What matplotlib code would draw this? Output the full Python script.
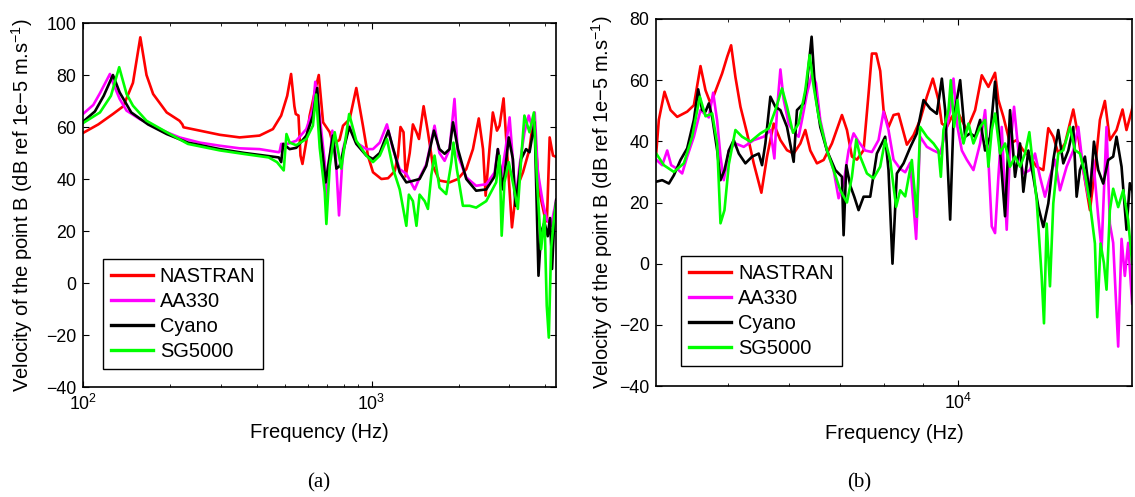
import numpy as np
import matplotlib
matplotlib.use('Agg')
import matplotlib.pyplot as plt
from matplotlib.ticker import NullFormatter, MultipleLocator

plt.rcParams['font.family'] = ['Liberation Sans', 'DejaVu Sans']
plt.rcParams['mathtext.fontset'] = 'custom'
plt.rcParams['mathtext.rm'] = 'Liberation Sans'

# ---------------- panel (a): 100 Hz - 4.3 kHz ----------------
a_nastran_f = [100, 113, 127, 138, 149, 158, 166, 175, 195, 216, 221, 223, 254, 298, 349, 409, 455,
               486, 510, 526, 540, 546, 558, 567, 576, 595, 610, 640, 656, 679, 716, 734, 774, 796,
               839, 885, 933, 971, 1011, 1081, 1140, 1202, 1234, 1259, 1290, 1312, 1355, 1390, 1430,
               1459, 1514, 1567, 1631, 1718, 1862, 1991, 2128, 2244, 2351, 2432, 2483, 2560, 2630,
               2718, 2775, 2865, 2965, 3063, 3170, 3345, 3524, 3640, 3813, 3970, 4048, 4138, 4250, 4365]
a_nastran_db = [57.7, 61, 65, 68, 77, 94.5, 80, 72.7, 65.6, 62.4, 61, 59.9, 58.6, 57, 56, 56.7, 59.2,
                64.4, 72, 80.4, 68, 65, 64.4, 49, 45.8, 55, 64.4, 75, 80, 61.8, 58, 53.5, 55, 60.5,
                63, 75, 60.5, 49, 42.6, 40, 40.3, 43, 49, 60, 58, 41, 50, 61, 58,
                55.4, 68, 58, 45, 39.4, 38.7, 40, 43.8, 51.5, 63.3, 51.5, 33.6, 51.5, 65.6,
                58.6, 60.5, 71, 45.6, 21.4, 36, 42.6, 51.5, 64, 35, 26, 23.7, 56, 49, 48.5]

a_aa330_f = [100, 108.6, 114.5, 124, 127, 134, 141.6, 157.5, 175, 195, 216, 254, 298, 349, 409, 477,
             480, 486, 510, 548, 594, 626, 638, 661, 688, 697, 731, 751, 771, 796, 836, 885, 959,
             1011, 1067, 1130, 1186, 1251, 1319, 1410, 1466, 1546, 1652, 1718, 1790, 1862, 1937,
             1991, 2128, 2302, 2495, 2667, 2737, 2812, 2911, 3006, 3085, 3150, 3252, 3383, 3501,
             3614, 3673, 3767, 3917, 4043, 4185, 4360]
a_aa330_db = [65, 68.5, 73, 80.4, 77, 70.8, 66.3, 63, 60.5, 58, 56, 54, 52.8, 51.8, 51.5, 50.3,
              50.5, 53.5, 53.5, 54.7, 59.2, 67, 77.4, 64, 46.5, 32.3, 58.6, 49, 26, 51.5, 60.5, 54, 51.5,
              51.5, 54, 61, 51.5, 43.8, 42, 36, 40.5, 45.6, 60.5, 50, 47, 51.5, 70.8,
              49, 40.6, 37.4, 38, 42.5, 51.5, 41.3, 51.5, 63.7, 47.4, 31, 45, 57.8, 64.4,
              59.2, 65.6, 42.6, 31, 24.6, 22, 32]

a_cyano_f = [100, 110, 118, 127, 134, 147, 168, 195, 231, 298, 363, 477, 486, 494, 520, 548, 594, 626,
             648, 661, 693, 716, 734, 755, 775, 836, 885, 959, 1011, 1067, 1142, 1186, 1251, 1319,
             1390, 1466, 1546, 1644, 1718, 1790, 1862, 1914, 1991, 2128, 2302, 2495, 2667, 2737,
             2849, 2986, 3085, 3150, 3296, 3428, 3524, 3670, 3785, 3865, 3970, 4075, 4150, 4218,
             4298, 4360]
a_cyano_db = [62, 66, 72, 80, 73.3, 65.6, 61, 57.3, 54, 51.5, 50, 48.3, 46.5, 53.5, 51.5, 52, 56.7, 64.4,
              75, 60, 38.7, 49, 56.7, 44, 45, 60, 53.5, 49, 47.7, 50, 58.6, 52, 42.6, 38.7,
              39.3, 40, 45, 58.6, 51.5, 49.7, 51.5, 61.8, 51.5, 40, 35.5, 36, 41, 51.5,
              36, 56, 47.7, 29.7, 47.7, 51.5, 50.3, 61.8, 2.8, 19.5, 23.3, 18, 25, 5.4,
              25, 32]

a_sg5000_f = [100, 114.5, 125, 133.5, 141.6, 149, 166, 195, 231, 298, 363, 440, 470, 496, 507, 520,
              548, 594, 626, 642, 661, 688, 697, 716, 745, 785, 836, 885, 959, 1011, 1067, 1130,
              1186, 1251, 1319, 1346, 1390, 1430, 1466, 1527, 1567, 1610, 1652, 1718, 1813, 1890,
              1921, 1972, 2071, 2185, 2302, 2495, 2700, 2775, 2822, 2885, 2986, 3085, 3210, 3296,
              3383, 3524, 3650, 3735, 3865, 3970, 4043, 4110, 4185, 4270, 4360]
a_sg5000_db = [61.5, 65.6, 72, 83, 72.7, 68.2, 62.4, 58, 53.5, 51, 49.6, 48.3, 46.5, 43.3, 57.3, 54,
               53, 55.4, 60.5, 72.5, 52, 35, 22.7, 45, 58, 44, 65, 54.7, 49, 46.5, 49, 55.4,
               44, 36, 22, 34, 31.5, 22, 34, 31.5, 28.5, 41.5, 49, 36.7, 34.2, 46.5,
               54, 44, 29.7, 29.7, 29, 31.5, 38.7, 49, 18.2, 38.7, 46.5, 38.7, 28.5, 47.7,
               64.4, 58, 65.6, 41, 13, 26, -8.7, -21, 13, 23.3, 31]

# ---------------- panel (b): 4 kHz - 17 kHz ----------------
b_nastran_f = [4022, 4054, 4124, 4200, 4285, 4416, 4506, 4597, 4667, 4738, 4786, 4907, 4982, 5042, 5108,
               5186, 5291, 5398, 5524, 5619, 5733, 5850, 5968, 6089, 6213, 6307, 6402, 6532, 6665,
               6834, 7044, 7151, 7259, 7369, 7519, 7633, 7710, 7811, 7906, 7986, 8107, 8230, 8355,
               8568, 8741, 8918, 9100, 9266, 9425, 9521, 9665, 9812, 9961, 10265, 10526, 10740,
               10957, 11179, 11292, 11464, 11696, 11933, 12175, 12422, 12673, 12931, 13127, 13326,
               13528, 13804, 14155, 14370, 14588, 14883, 15109, 15338, 15570, 15806, 16127, 16422,
               16619, 16871, 16956]
b_nastran_db = [36, 47, 56.2, 50.2, 48, 49.7, 51.8, 64.6, 56.7, 52.4, 55, 62.2, 67.6, 71.4, 61,
                51.3, 42.6, 32.8, 23.2, 35, 45.8, 40.4, 37.1, 36, 39.3, 43.7, 37, 32.8, 33.9,
                39.3, 48.6, 43.7, 35, 34, 37.1, 55.6, 68.7, 68.7, 63, 50.2, 44.7, 48.6, 49,
                38.9, 42, 47, 54.6, 60.5, 53.5, 45.8, 44.7, 48, 50.2, 43.7, 50.2, 61.6,
                57.8, 62.4, 53.5, 48, 39.3, 40.4, 37, 35, 31.7, 30.6, 44.3, 41.5,
                36, 39.3, 50.4, 41.5, 30.6, 17.5, 30.6, 47, 53.2, 40.4, 43.7, 50.4,
                43.7, 49.7, 52]

b_aa330_f = [4022, 4096, 4158, 4208, 4285, 4350, 4416, 4506, 4597, 4714, 4776, 4834, 4883, 4932, 5007,
             5108, 5238, 5398, 5563, 5676, 5745, 5791, 5850, 5908, 5998, 6089, 6181, 6244, 6338,
             6435, 6513, 6598, 6732, 6869, 6973, 7079, 7187, 7296, 7406, 7557, 7710, 7866, 7985,
             8106, 8230, 8397, 8525, 8654, 8811, 8918, 9100, 9285, 9473, 9665, 9763, 9861, 9981,
             10113, 10265, 10473, 10686, 10848, 10957, 11068, 11179, 11292, 11406, 11579, 11696,
             11838, 11993, 12175, 12422, 12610, 12801, 12996, 13193, 13393, 13596, 13873, 14155,
             14370, 14588, 14809, 15033, 15262, 15415, 15648, 15806, 15965, 16208, 16373, 16536,
             16703, 16905]
b_aa330_db = [34, 32.2, 37, 32.2, 31, 29.5, 35, 41.5, 50.2, 47.8, 55.9, 46.7, 35, 27.3, 37,
              39.3, 38.2, 40.4, 41.5, 43.7, 34.4, 50.2, 63.5, 53.7, 45.8, 43, 41.5, 47, 55.6,
              62.2, 59, 47, 37, 30.6, 21.4, 26.3, 37.1, 42.6, 39.9, 37, 36.5, 40.4, 49.7,
              43.7, 34, 31, 29.9, 33, 8.1, 41.5, 38.2, 37, 36, 44.7, 50.2, 60.5, 44.7,
              37, 34, 30.6, 39.3, 50.2, 34, 12.2, 10, 28.4, 44.7, 11.1, 37,
              51.3, 37, 29.5, 30.6, 36, 28.4, 21.9, 28.4, 34, 24, 31.7, 37,
              44.7, 30.6, 21.9, 33.9, 15.3, 4.6, 44.7, 13, 6.8, -27.1, 8.1, -4,
              6.8, -13]

b_cyano_f = [4022, 4096, 4179, 4242, 4328, 4416, 4506, 4565, 4620, 4667, 4714, 4762, 4834, 4883, 4942,
             5007, 5082, 5160, 5264, 5371, 5480, 5535, 5591, 5676, 5762, 5850, 5968, 6089, 6150,
             6275, 6338, 6428, 6500, 6598, 6732, 6904, 7044, 7079, 7137, 7223, 7310, 7406, 7519,
             7671, 7826, 7945, 8025, 8106, 8204, 8313, 8482, 8654, 8829, 9009, 9192, 9378, 9521,
             9617, 9763, 9861, 10062, 10214, 10369, 10526, 10686, 10848, 11012, 11179, 11349,
             11521, 11696, 11873, 12054, 12175, 12359, 12547, 12737, 12931, 13127, 13326, 13528,
             13734, 13943, 14155, 14298, 14442, 14661, 14883, 15064, 15262, 15493, 15727, 15965,
             16127, 16373, 16619, 16787, 16956]
b_cyano_db = [26.8, 27.3, 26.2, 28.9, 33.9, 37.7, 47, 57, 50.2, 49.7, 52.4, 48, 37.1, 27.3, 30.6,
              37, 40.4, 36, 32.8, 35, 36, 32.2, 39.3, 54.6, 51.3, 50.2, 44.7, 33.3, 50.2,
              52.4, 59, 74.2, 55.6, 44.7, 37, 30.6, 28.4, 9.3, 32.2, 25.5, 21.9, 17.5, 21.9,
              21.9, 36, 39.3, 41.5, 30.6, 0, 29.5, 32.8, 38, 42.6, 53.5, 50.7, 49, 60.5,
              50.2, 14.4, 47, 60, 41.5, 42.6, 41.5, 47, 37, 41.5, 59.5, 37,
              15.5, 50.2, 28.4, 39.3, 23.5, 37, 28.4, 18.6, 12, 19.7, 33.9, 43.7,
              32.8, 37, 44.7, 21.9, 30.6, 35, 21.9, 39.9, 30.6, 26.2, 33.9, 35,
              41.5, 31.7, 11.1, 26.3, 23]

b_sg5000_f = [4022, 4116, 4242, 4372, 4483, 4588, 4667, 4762, 4834, 4883, 4942, 5007, 5108, 5212, 5344,
              5508, 5647, 5762, 5879, 5968, 6077, 6181, 6307, 6390, 6467, 6565, 6732, 6869, 7008,
              7151, 7259, 7354, 7443, 7595, 7748, 7905, 8025, 8147, 8295, 8397, 8525, 8697, 8829,
              8918, 9100, 9285, 9425, 9492, 9568, 9714, 9782, 9881, 9981, 10062, 10163, 10317,
              10473, 10686, 10848, 10957, 11068, 11179, 11349, 11521, 11696, 11873, 12054, 12237,
              12397, 12547, 12673, 12866, 12957, 13062, 13193, 13326, 13528, 13734, 14013, 14227,
              14442, 14661, 14883, 15109, 15216, 15369, 15524, 15648, 15806, 15965, 16208, 16454,
              16703, 16905]
b_sg5000_db = [36, 32.2, 30, 32.8, 41.5, 54.6, 48.2, 49.1, 39.3, 13.2, 17.5, 32.5, 43.7, 41.5, 39.9,
               42.6, 44.2, 50.2, 57.3, 51.3, 42.8, 45.8, 56.7, 68.2, 58, 48.2, 37.1, 30.6, 24,
               20, 28.4, 40.6, 35, 29.5, 27.9, 31.7, 40.4, 33.9, 18.6, 24, 22, 33.9, 15.3,
               44.7, 41.5, 39.3, 37, 28.4, 43.7, 50.2, 60, 44.7, 53.5, 44.7, 39.3, 45.8,
               39.3, 44.7, 47, 31.7, 43.7, 49.1, 36, 39.3, 31.7, 35, 31.7, 36,
               43, 31, 20.8, -4.1, -19.5, 13.1, -7.4, 19.7, 36, 37.1, 44.7, 37.1,
               36, 29.5, 19.7, 6.6, -17.5, 6.6, 0.2, -8.5, 17.5, 24.5, 18.5, 24,
               14.2, 0]

labels = ['NASTRAN', 'AA330', 'Cyano', 'SG5000']
colors = ['#ff0000', '#ff00ff', '#000000', '#00ff00']

panels = [
    dict(rect=[0.0731, 0.2213, 0.4167, 0.7324], xlim=(100, 4350), ylim=(-40, 100),
         series=[(a_nastran_f, a_nastran_db), (a_aa330_f, a_aa330_db),
                 (a_cyano_f, a_cyano_db), (a_sg5000_f, a_sg5000_db)],
         leg=(0.042, 0.049), ylab_x=-0.129, xlab_y=-0.126, cap='(a)', cap_x=319),
    dict(rect=[0.578, 0.2233, 0.4194, 0.7385], xlim=(4020, 16900), ylim=(-40, 80),
         series=[(b_nastran_f, b_nastran_db), (b_aa330_f, b_aa330_db),
                 (b_cyano_f, b_cyano_db), (b_sg5000_f, b_sg5000_db)],
         leg=(0.0525, 0.0545), ylab_x=-0.113, xlab_y=-0.128, cap='(b)', cap_x=859),
]

fig = plt.figure(figsize=(11.35, 4.97), dpi=100)

for p in panels:
    ax = fig.add_axes(p['rect'])
    for (f, db), lab, c in zip(p['series'], labels, colors):
        ax.plot(f, db, color=c, lw=1.9, label=lab)
    ax.set_xscale('log')
    ax.set_xlim(*p['xlim'])
    ax.set_ylim(*p['ylim'])
    ax.yaxis.set_major_locator(MultipleLocator(20))
    ax.xaxis.set_minor_formatter(NullFormatter())
    ax.tick_params(which='both', direction='in', top=True, right=True, labelsize=12.8)
    ax.tick_params(which='major', length=4, pad=5)
    ax.tick_params(which='minor', length=2.5)
    for s in ax.spines.values():
        s.set_linewidth(1.2)
    ax.set_xlabel('Frequency (Hz)', fontsize=14.5)
    ax.set_ylabel('Velocity of the point B (dB ref 1e\u22125 m.s$^{-1}$)', fontsize=14.5)
    ax.xaxis.set_label_coords(0.5, p['xlab_y'])
    ax.xaxis.label.set_va('center')
    ax.yaxis.set_label_coords(p['ylab_x'], 0.5)
    ax.yaxis.label.set_va('center')
    leg = ax.legend(loc='lower left', bbox_to_anchor=p['leg'], borderaxespad=0,
                    fontsize=14.4, fancybox=False, framealpha=1, edgecolor='black',
                    handlelength=2.1, handletextpad=0.35, labelspacing=0.3,
                    borderpad=0.4)
    leg.get_frame().set_linewidth(1.0)
    for line in leg.get_lines():
        line.set_linewidth(2.4)
    fig.text(p['cap_x'] / 1135, 1 - 483 / 497, p['cap'], ha='center', va='center',
             fontsize=15, family='Liberation Serif')

fig.savefig('out.png', dpi=100)
